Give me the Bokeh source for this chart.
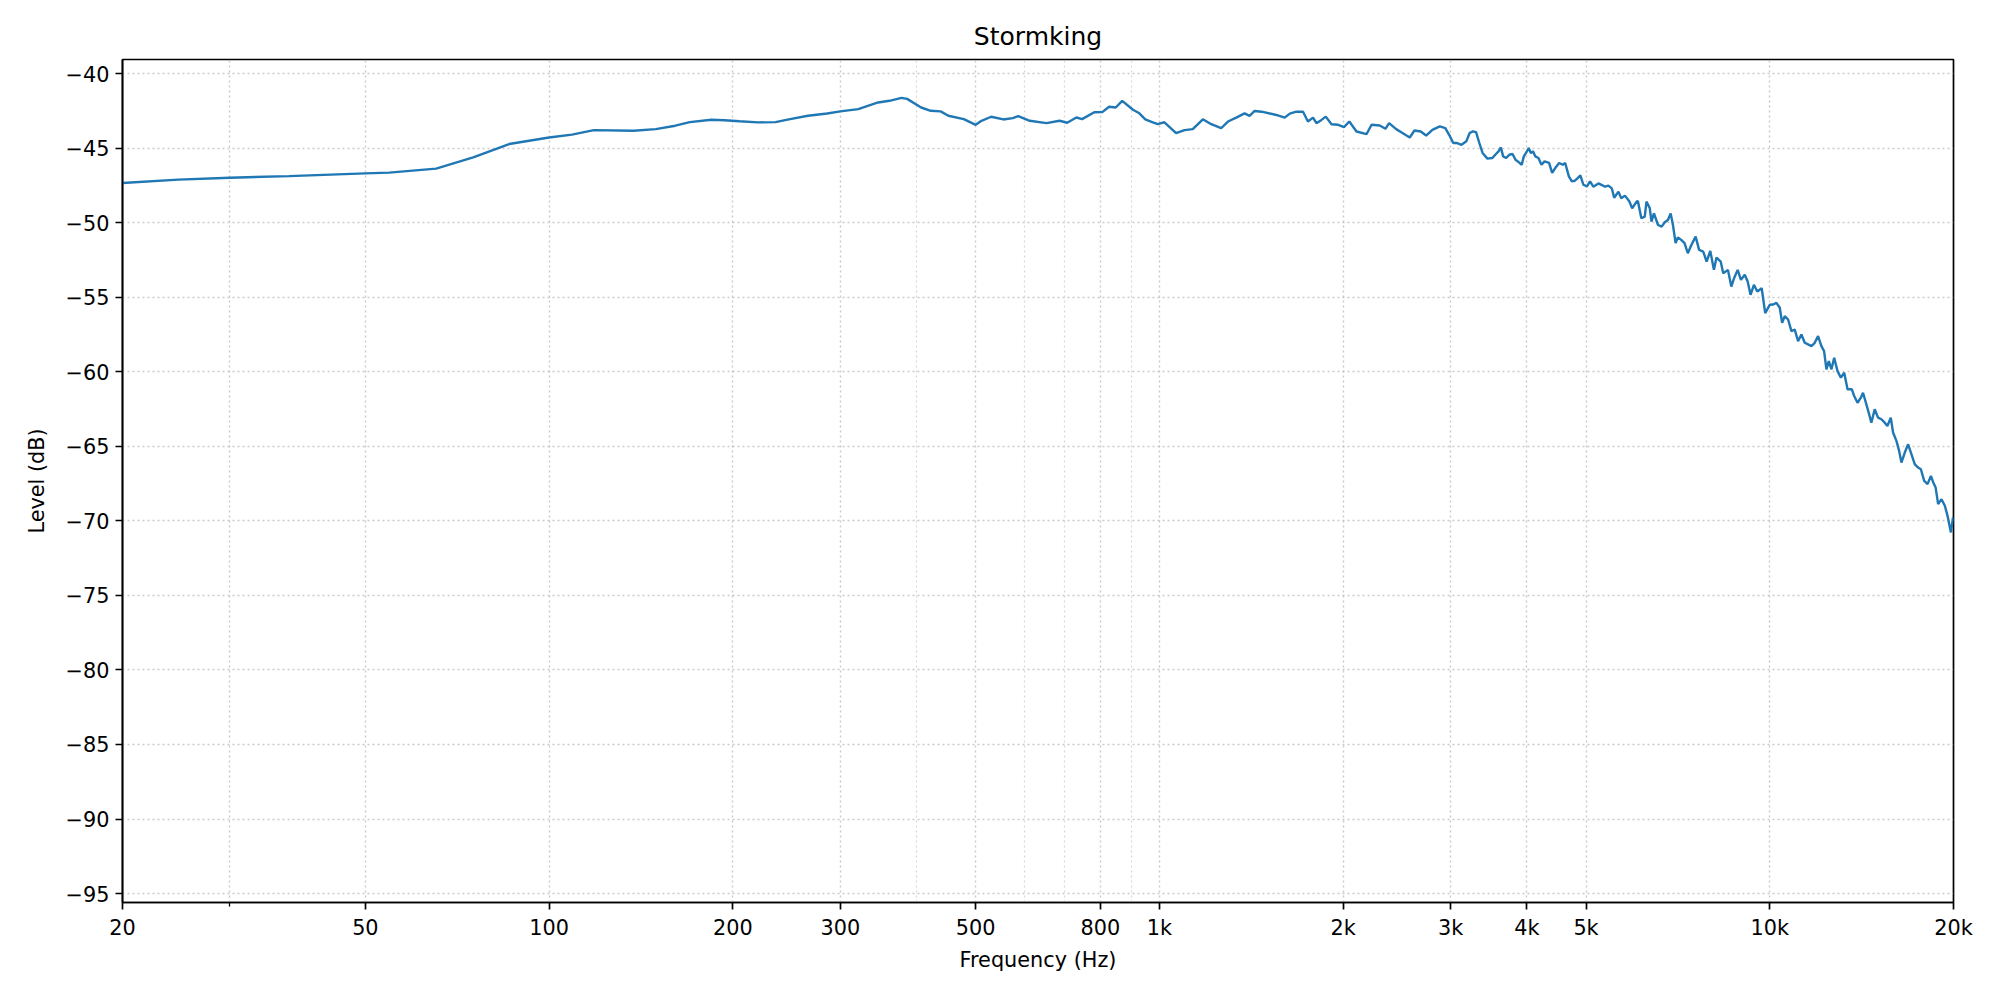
from bokeh.plotting import figure
from bokeh.models import Range1d, FixedTicker, Grid
from bokeh.embed import file_html
from bokeh.resources import INLINE

# ---- data ----
freq_hz = [
    20, 24.7, 30, 37.5, 50, 54.7, 65.3, 75.1, 86, 100, 109, 118.4, 137.5, 149.5,
    161, 170, 184.5, 193.8, 205, 220, 235, 247, 265.5, 285.5, 300, 321, 346, 361,
    378, 386, 407, 422, 438, 451, 478, 500, 511, 530, 555, 575, 587, 613, 653,
    686, 706, 731, 747, 782, 806, 827, 848, 869, 905, 927, 948, 975, 994, 1019,
    1065, 1099, 1134, 1178, 1216, 1262, 1295, 1336, 1379, 1405, 1432, 1470, 1554,
    1604, 1635, 1676, 1719, 1751, 1785, 1808, 1843, 1873, 1914, 1963, 2006, 2047,
    2103, 2184, 2226, 2296, 2346, 2378, 2443, 2505, 2571, 2617, 2680, 2735, 2800,
    2880, 2940, 2993, 3030, 3068, 3125, 3183, 3223, 3262, 3302, 3343, 3384, 3446,
    3509, 3550, 3594, 3626, 3657, 3700, 3743, 3788, 3832, 3877, 3923, 3954, 4000,
    4028, 4060, 4093, 4130, 4178, 4226, 4275, 4349, 4400, 4451, 4518, 4580, 4622,
    4686, 4740, 4795, 4850, 4894, 4950, 5018, 5075,
    5140, 5240, 5310, 5370, 5440, 5510, 5560, 5650, 5710, 5790, 5890, 5950, 6050,
    6080, 6160, 6240, 6280, 6360, 6400, 6460, 6560, 6650, 6730, 6810, 6880, 6940,
    7010, 7070, 7160, 7250, 7340, 7440, 7560, 7660, 7780, 7880, 7990, 8100, 8180,
    8310, 8390, 8540, 8650, 8740, 8860, 8970, 9100, 9200, 9300, 9420, 9540, 9700,
    9830,
    10000, 10126, 10255, 10385, 10477, 10583, 10716, 10851, 10988, 11127, 11268,
    11411, 11555, 11701, 11849, 11999, 12151, 12274, 12383, 12494, 12622, 12750,
    12913, 13076, 13242, 13410, 13630, 13750, 13925, 14101, 14216, 14397, 14525,
    14671, 14857, 15046, 15237, 15430, 15586, 15785, 15924, 16126, 16290, 16434,
    16643, 16854, 17068, 17285, 17505, 17683, 17908, 18135, 18366, 18530, 18696,
    18875, 19115, 19358, 19555, 19679, 19805, 19965, 20000,
]
level_db = [
    -47.34, -47.12, -46.99, -46.88, -46.70, -46.65, -46.38, -45.63, -44.73, -44.29,
    -44.10, -43.80, -43.84, -43.73, -43.50, -43.26, -43.10, -43.13, -43.20, -43.28,
    -43.26, -43.08, -42.83, -42.68, -42.54, -42.39, -41.94, -41.83, -41.63, -41.70,
    -42.28, -42.50, -42.54, -42.83, -43.06, -43.44, -43.17, -42.90, -43.08, -42.99,
    -42.86, -43.17, -43.33, -43.17, -43.30, -42.95, -43.06, -42.60, -42.59, -42.23,
    -42.28, -41.83, -42.43, -42.67, -43.08, -43.27, -43.40, -43.27,
    -44.00, -43.80, -43.73, -43.07, -43.40, -43.67, -43.22, -42.96, -42.67, -42.84,
    -42.51, -42.56, -42.78, -42.96, -42.69, -42.56, -42.56, -43.22, -42.96, -43.33,
    -43.11, -42.89, -43.40, -43.44, -43.60, -43.22, -43.89, -44.07, -43.44, -43.49,
    -43.71, -43.33, -43.73, -44.00, -44.29, -43.82, -43.89, -44.16, -43.78,
    -43.55, -43.66, -44.22, -44.66, -44.66, -44.78, -44.55, -43.99, -43.88, -43.93,
    -44.66, -45.33, -45.71, -45.67, -45.45, -45.22, -44.96, -45.56, -45.67, -45.45,
    -45.40, -45.78, -45.94, -46.12, -45.56, -45.22, -45.00, -45.33, -45.22, -45.56,
    -45.67, -46.12, -45.89, -46.00, -46.67, -46.34, -46.00, -46.12, -46.00, -46.90,
    -47.23, -47.19, -47.00, -46.83, -47.46, -47.57, -47.23,
    -47.59, -47.37, -47.48, -47.59, -47.52, -47.70, -48.33, -47.92, -48.37, -48.19,
    -48.59, -49.04, -48.59, -48.55, -49.71, -49.60, -48.59, -49.04, -49.93, -49.38,
    -50.16, -50.27, -49.98, -49.82, -49.38, -50.16, -51.38, -50.99, -51.16, -51.38,
    -52.05, -51.50, -50.94, -51.83, -51.94, -52.61, -51.90, -53.17, -52.34, -52.61,
    -53.39, -53.17, -54.29, -53.73, -53.17, -53.84, -53.50, -53.95, -54.84, -54.17,
    -54.62, -54.40, -56.07, -55.51,
    -55.49, -55.38, -55.71, -56.72, -56.27, -56.50, -57.28, -57.17, -57.95, -57.50,
    -58.06, -58.17, -58.28, -58.06, -57.61, -58.28, -58.62, -59.84, -59.29, -59.84,
    -59.06, -59.96, -60.40, -60.07, -61.18, -61.18, -61.63, -62.08, -61.74, -61.41,
    -62.19, -62.75, -63.42, -62.52, -63.08, -63.19, -63.42, -63.64, -63.08, -64.08,
    -64.64, -65.31, -66.09, -65.42, -64.87, -65.54, -66.21, -66.43, -66.54, -67.32,
    -67.54, -66.99, -67.43, -67.77, -68.88, -68.55, -68.99, -69.67, -70.22, -70.78,
    -69.78, -70.00, -69.85,
]

x_ticks = [20, 50, 100, 200, 300, 500, 800, 1000, 2000, 3000, 4000, 5000, 10000, 20000]
x_tick_labels = ["20", "50", "100", "200", "300", "500", "800", "1k", "2k", "3k",
                 "4k", "5k", "10k", "20k"]
x_minor_ticks = [30]
x_grid_major = [30, 50, 100, 200, 300, 500, 800, 1000, 2000, 3000, 4000, 5000, 10000]
x_grid_minor = [400, 600, 700, 900]
y_ticks = [-40, -45, -50, -55, -60, -65, -70, -75, -80, -85, -90, -95]

title_text = "Stormking"
x_label = "Frequency (Hz)"
y_label = "Level (dB)"

FONT = "DejaVu Sans"
TICK_PX = "20.8px"

p = figure(
    width=1984, height=984,
    x_axis_type="log",
    x_range=Range1d(20, 20000),
    y_range=Range1d(-95.6, -39.06),
    output_backend="svg",
    toolbar_location=None,
    min_border_left=122, min_border_right=31,
    min_border_top=59, min_border_bottom=82,
    title=title_text,
)

p.line(freq_hz, level_db, line_color="#1f77b4", line_width=2.4)

# title
p.title.align = "center"
p.title.text_font = FONT
p.title.text_font_size = "25px"
p.title.text_font_style = "normal"
p.title.text_color = "black"
p.title.standoff = 17

# outline
p.outline_line_color = "black"
p.outline_line_width = 1.7
p.background_fill_color = "white"
p.border_fill_color = "white"

# x axis
xa = p.xaxis[0]
xa.ticker = FixedTicker(ticks=x_ticks, minor_ticks=x_minor_ticks)
xa.major_label_overrides = {t: l for t, l in zip(x_ticks, x_tick_labels)}
xa.axis_label = x_label

# y axis
ya = p.yaxis[0]
ya.ticker = FixedTicker(ticks=y_ticks, minor_ticks=[])
ya.major_label_overrides = {t: ("\u2212" + str(abs(t)) if t < 0 else str(t)) for t in y_ticks}
ya.axis_label = y_label

for ax in (xa, ya):
    ax.axis_line_color = "black"
    ax.axis_line_width = 1.7
    ax.major_tick_line_color = "black"
    ax.major_tick_line_width = 1.7
    ax.major_tick_out = 7
    ax.major_tick_in = 0
    ax.minor_tick_line_color = "black"
    ax.minor_tick_line_width = 1.3
    ax.minor_tick_out = 4
    ax.minor_tick_in = 0
    ax.major_label_text_font = FONT
    ax.major_label_text_font_size = TICK_PX
    ax.major_label_text_color = "black"
    ax.axis_label_text_font = FONT
    ax.axis_label_text_font_size = TICK_PX
    ax.axis_label_text_font_style = "normal"
    ax.axis_label_text_color = "black"
    ax.major_label_standoff = 6

xa.axis_label_standoff = 5
ya.axis_label_standoff = 14

# grids
p.xgrid[0].ticker = FixedTicker(ticks=x_grid_major)
p.ygrid[0].ticker = FixedTicker(ticks=y_ticks)
for g in (p.xgrid[0], p.ygrid[0]):
    g.grid_line_color = "#b8b8b8"
    g.grid_line_width = 1.4
    g.grid_line_dash = "2 3"
    g.grid_line_alpha = 0.75

minor_grid = Grid(dimension=0, ticker=FixedTicker(ticks=x_grid_minor),
                  grid_line_color="#c8c8c8", grid_line_width=1.2,
                  grid_line_dash="2 3", grid_line_alpha=0.7)
p.add_layout(minor_grid)

open("out.html", "w").write(file_html(p, INLINE))
